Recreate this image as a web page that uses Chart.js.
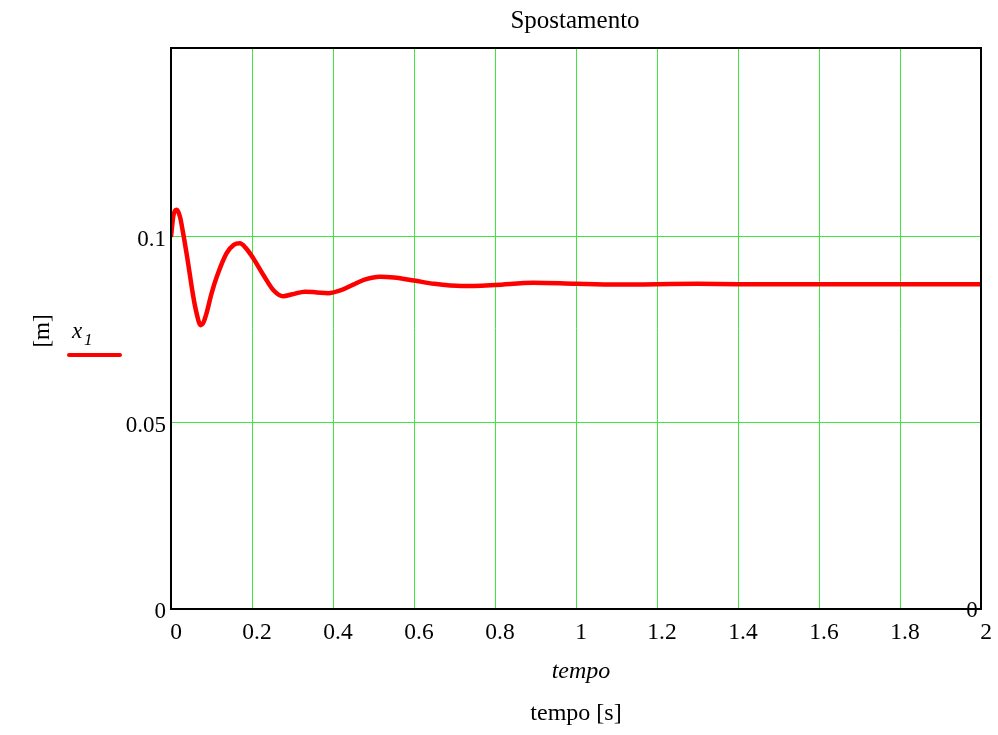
<!DOCTYPE html>
<html>
<head>
<meta charset="utf-8">
<script src="https://cdn.jsdelivr.net/npm/chart.js@4.4.1/dist/chart.umd.min.js"></script>
<style>
html,body{margin:0;padding:0;background:#fff;}
#wrap{position:relative;width:998px;height:735px;}
</style>
</head>
<body>
<div id="wrap"><canvas id="c" width="998" height="735"></canvas></div>
<script>
const chartTitle = "Spostamento";
const yAxisLabel = "[m]";
const xAxisLabel1 = "tempo";
const xAxisLabel2 = "tempo [s]";
const seriesName = "x";
const seriesSub = "1";
const xTicks = [0, 0.2, 0.4, 0.6, 0.8, 1, 1.2, 1.4, 1.6, 1.8, 2];
const yTicks = [0, 0.05, 0.1];
const timeValues = [0, 0.006, 0.014, 0.022, 0.030, 0.040, 0.055, 0.063, 0.073, 0.080, 0.088, 0.100, 0.113, 0.137, 0.155, 0.170, 0.185, 0.203, 0.228, 0.253, 0.277, 0.30, 0.331, 0.36, 0.388, 0.42, 0.45, 0.48, 0.516, 0.55, 0.6, 0.65, 0.718, 0.8, 0.895, 1.0, 1.1, 1.2, 1.3, 1.4, 1.6, 1.8, 2.0];
const x1Values = [0.1, 0.1058, 0.1073, 0.1055, 0.101, 0.0945, 0.084, 0.0796, 0.0763, 0.0770, 0.0796, 0.0848, 0.0893, 0.0956, 0.0979, 0.0983, 0.0970, 0.0943, 0.0898, 0.0857, 0.0841, 0.0846, 0.0853, 0.0851, 0.0849, 0.0857, 0.0872, 0.0886, 0.0893, 0.0891, 0.0883, 0.0874, 0.0868, 0.0871, 0.0877, 0.0874, 0.0872, 0.0873, 0.0874, 0.0873, 0.0873, 0.0873, 0.0873];

const serif = '"Liberation Serif", "Times New Roman", serif';
const points = timeValues.map((t, i) => ({x: t, y: x1Values[i]}));

const decor = {
  id: 'decor',
  afterDraw(chart) {
    const ctx = chart.ctx;
    const a = chart.chartArea;
    ctx.save();
    ctx.strokeStyle = '#000';
    ctx.lineWidth = 2;
    ctx.strokeRect(a.left, a.top, a.right - a.left, a.bottom - a.top);
    ctx.fillStyle = '#000';
    ctx.textAlign = 'center';
    ctx.textBaseline = 'middle';
    ctx.font = '25px ' + serif;
    ctx.fillText(chartTitle, (a.left + a.right) / 2 - 1, 21);
    ctx.font = 'italic 24px ' + serif;
    ctx.fillText(xAxisLabel1, (a.left + a.right) / 2 + 5, 672);
    ctx.font = '24px ' + serif;
    ctx.fillText(xAxisLabel2, (a.left + a.right) / 2, 714);
    // y label
    ctx.save();
    ctx.translate(43, 331);
    ctx.rotate(-Math.PI / 2);
    ctx.font = '23px ' + serif;
    ctx.fillText(yAxisLabel, 0, 0);
    ctx.restore();
    // legend
    ctx.textAlign = 'left';
    ctx.textBaseline = 'alphabetic';
    ctx.font = 'italic 23px ' + serif;
    ctx.fillText(seriesName, 72, 338);
    ctx.font = 'italic 17px ' + serif;
    ctx.fillText(seriesSub, 84, 345);
    ctx.strokeStyle = '#ff0000';
    ctx.lineWidth = 4;
    ctx.lineCap = 'round';
    ctx.beginPath();
    ctx.moveTo(69, 355);
    ctx.lineTo(120, 355);
    ctx.stroke();
    // stray marker label
    ctx.fillStyle = '#000';
    ctx.font = '23px ' + serif;
    ctx.textAlign = 'center';
    ctx.textBaseline = 'middle';
    ctx.fillText('0', 972, 611);
    ctx.restore();
  }
};

new Chart(document.getElementById('c'), {
  type: 'line',
  data: {
    datasets: [{
      label: 'x1',
      data: points,
      borderColor: '#ff0000',
      borderWidth: 4.5,
      pointRadius: 0,
      fill: false,
      cubicInterpolationMode: 'monotone'
    }]
  },
  options: {
    responsive: false,
    animation: false,
    devicePixelRatio: 1,
    layout: {padding: {top: 48, right: 17, bottom: 0, left: 0}},
    plugins: {legend: {display: false}, title: {display: false}, tooltip: {enabled: false}},
    scales: {
      x: {
        type: 'linear', min: 0, max: 2,
        afterBuildTicks: s => { s.ticks = xTicks.map(v => ({value: v})); },
        afterFit: s => { s.height = 126; },
        ticks: {
          font: {family: serif, size: 23.5}, color: '#000', padding: 10, labelOffset: 5,
          maxRotation: 0, autoSkip: false,
          callback: v => String(v)
        },
        grid: {color: '#3ee63e', lineWidth: 1, drawTicks: false},
        border: {display: false}
      },
      y: {
        type: 'linear', min: 0, max: 0.1508,
        afterBuildTicks: s => { s.ticks = yTicks.map(v => ({value: v})); },
        afterFit: s => { s.width = 171; },
        ticks: {
          font: {family: serif, size: 23}, color: '#000', padding: 5, labelOffset: 3,
          callback: v => String(v)
        },
        grid: {color: '#3ee63e', lineWidth: 1, drawTicks: false},
        border: {display: false}
      }
    }
  },
  plugins: [decor]
});
</script>
</body>
</html>
